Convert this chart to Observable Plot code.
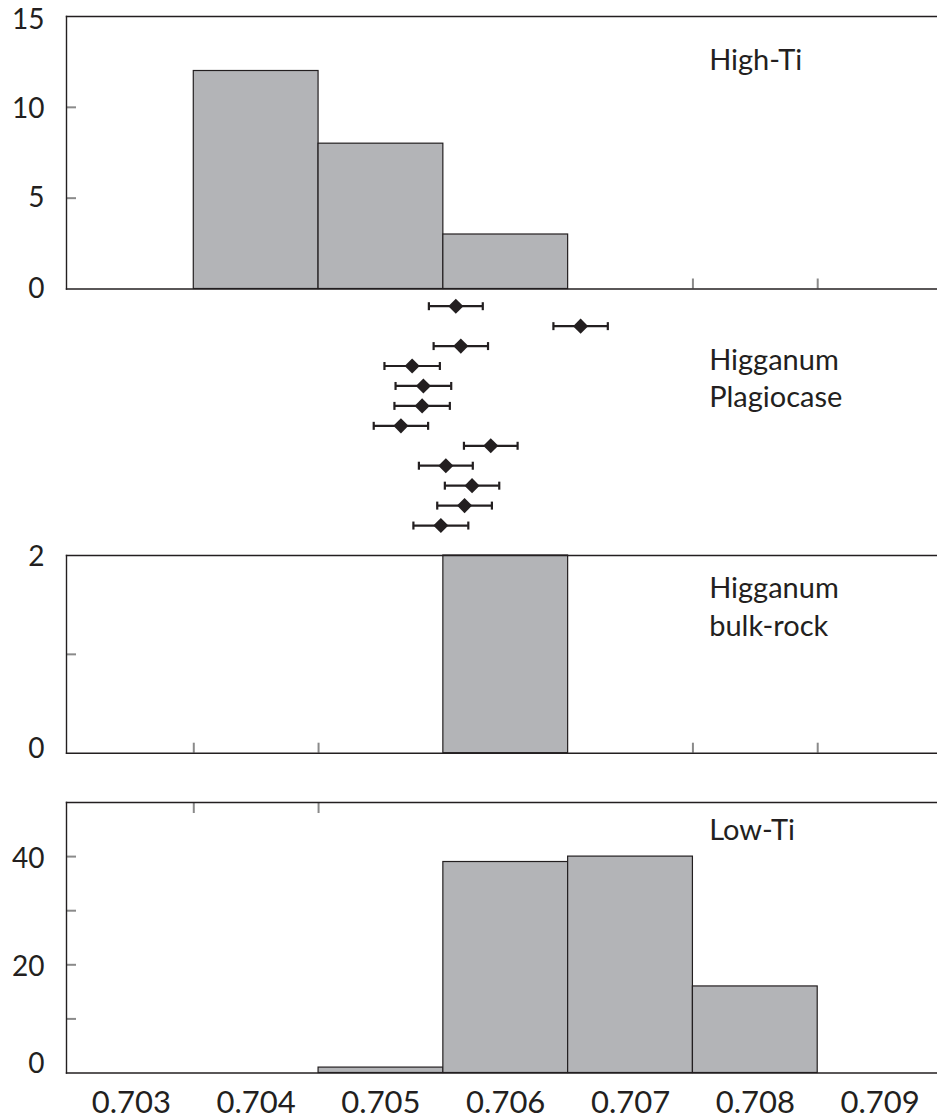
<!DOCTYPE html>
<html>
<head>
<meta charset="utf-8">
<script src="https://cdn.jsdelivr.net/npm/d3@7"></script>
<script src="https://cdn.jsdelivr.net/npm/@observablehq/plot@0.6"></script>
<style>
  html, body { margin: 0; padding: 0; background: #fff; }
  #chart { position: relative; width: 937px; height: 1120px; overflow: hidden; }
  #chart svg { position: absolute; left: 0; }
</style>
</head>
<body>
<div id="chart"></div>
<script>
// ---- data ----
const binCenters = [0.703, 0.704, 0.705, 0.706, 0.707, 0.708, 0.709];
const binWidth = 0.001;
const highTiCounts   = [0, 12, 8, 3, 0, 0, 0];
const bulkRockCounts = [0, 0, 0, 2, 0, 0, 0];
const lowTiCounts    = [0, 0, 1, 39, 40, 16, 0];
const plagValues = [0.70560, 0.70660, 0.70564, 0.70525, 0.70534, 0.70533, 0.70516, 0.70588, 0.70552, 0.70573, 0.70567, 0.70548];
const plagErrors = [0.000216, 0.000218, 0.000218, 0.000222, 0.000223, 0.000222, 0.000218, 0.000215, 0.000216, 0.000218, 0.000219, 0.000220];
const xTickValues = [0.703, 0.704, 0.705, 0.706, 0.707, 0.708, 0.709];
const panelLabels = ["High-Ti", "Higganum\nPlagiocase", "Higganum\nbulk-rock", "Low-Ti"];

// ---- helpers ----
const INK = "#231f20";
const TICK = "#8a8a8a";
const BAR = "#b3b4b7";
const FONT = "Lato, 'Open Sans', sans-serif";
const xDomain = [0.70248, 0.70946];
const labelX = 0.70763;

const bars = counts => binCenters
  .map((c, i) => ({x1: c - binWidth / 2, x2: c + binWidth / 2, n: counts[i]}))
  .filter(d => d.n > 0);

const plag = plagValues.map((v, i) => ({i: i + 1, v, e: plagErrors[i]}));

const capSymbol = {
  draw(ctx, size) {
    const h = Math.sqrt(size / Math.PI);
    ctx.moveTo(0, -h);
    ctx.lineTo(0, h);
  }
};

const baseStyle = {fontFamily: FONT, fontSize: "27px", color: INK, background: "transparent", overflow: "visible"};
const intFmt = d3.format("d");

function frameMarks() {
  return [
    Plot.frame({anchor: "left", stroke: INK, strokeWidth: 1.4}),
    Plot.frame({anchor: "top", stroke: INK, strokeWidth: 1.4}),
    Plot.frame({anchor: "bottom", stroke: INK, strokeWidth: 1.4})
  ];
}
function inTicksY(values) {
  return Plot.axisY(values, {anchor: "left", tickSize: -10, tickFormat: () => "", color: TICK, strokeWidth: 2, label: null});
}
function labelsY(values, dy = 0) {
  return Plot.axisY(values, {anchor: "left", tickSize: 0, tickPadding: 22, fontSize: 28, color: INK, dy,
    tickFormat: intFmt, label: null});
}
function inTicksX(values, anchor) {
  return Plot.axisX(values, {anchor, tickSize: -10, tickFormat: () => "", color: TICK, strokeWidth: 2, label: null});
}
function histMarks(counts) {
  return Plot.rectY(bars(counts), {x1: "x1", x2: "x2", y: "n", fill: BAR, stroke: INK, strokeWidth: 1.2});
}
function panelText(text, y) {
  return Plot.text([text], {x: () => labelX, y: () => y, text: d => d, textAnchor: "start", lineAnchor: "bottom",
    fontSize: 29, lineHeight: 1.29, fill: INK});
}

const chart = document.getElementById("chart");
function place(svg, top) { svg.style.top = top + "px"; chart.appendChild(svg); }

// ---- panel 1: High-Ti ----
place(Plot.plot({
  width: 937, height: 292, marginLeft: 66, marginRight: 0, marginTop: 16, marginBottom: 3.5,
  style: baseStyle,
  x: {domain: xDomain},
  y: {domain: [0, 15]},
  marks: [
    inTicksX([0.7075, 0.7085], "bottom"),
    inTicksY([5, 10]),
    labelsY([15], 4),
    labelsY([10], 2),
    labelsY([0, 5]),
    histMarks(highTiCounts),
    ...frameMarks(),
    panelText(panelLabels[0], 12.03)
  ]
}), 0);

// ---- panel 2: Higganum plagioclase ----
place(Plot.plot({
  width: 937, height: 248, marginLeft: 66, marginRight: 0, marginTop: 0, marginBottom: 0,
  style: baseStyle,
  x: {domain: xDomain, axis: null},
  y: {domain: [0.313, 12.75], reverse: true, axis: null},
  marks: [
    Plot.ruleY(plag, {y: "i", x1: d => d.v - d.e, x2: d => d.v + d.e, stroke: INK, strokeWidth: 2.2}),
    Plot.dot(plag, {x: d => d.v - d.e, y: "i", symbol: capSymbol, r: 4, stroke: INK, strokeWidth: 2.2, fill: "none"}),
    Plot.dot(plag, {x: d => d.v + d.e, y: "i", symbol: capSymbol, r: 4, stroke: INK, strokeWidth: 2.2, fill: "none"}),
    Plot.dot(plag, {x: "v", y: "i", symbol: "diamond2", r: 6.8, fill: INK, stroke: "none"}),
    panelText(panelLabels[1], 6.08)
  ]
}), 292);

// ---- panel 3: Higganum bulk-rock ----
place(Plot.plot({
  width: 937, height: 215, marginLeft: 66, marginRight: 0, marginTop: 15, marginBottom: 2.3,
  style: baseStyle,
  x: {domain: xDomain},
  y: {domain: [0, 2]},
  marks: [
    inTicksX([0.7035, 0.7045, 0.7075, 0.7085], "bottom"),
    inTicksY([1]),
    labelsY([2], 2),
    labelsY([0], -4),
    histMarks(bulkRockCounts),
    ...frameMarks(),
    panelText(panelLabels[2], 1.19)
  ]
}), 540);

// ---- panel 4: Low-Ti ----
place(Plot.plot({
  width: 937, height: 340, marginLeft: 66, marginRight: 0, marginTop: 22, marginBottom: 47.5,
  style: baseStyle,
  x: {domain: xDomain},
  y: {domain: [0, 50]},
  marks: [
    inTicksX([0.7035, 0.7045], "top"),
    Plot.axisX(xTickValues, {anchor: "bottom", tickSize: 0, tickPadding: 18, fontSize: 31, color: INK,
      tickFormat: d3.format(".3f"), label: null}),
    inTicksY([10, 20, 30, 40]),
    labelsY([20, 40], 2),
    labelsY([0], -9),
    histMarks(lowTiCounts),
    ...frameMarks(),
    panelText(panelLabels[3], 43.06)
  ]
}), 780);
</script>
</body>
</html>
